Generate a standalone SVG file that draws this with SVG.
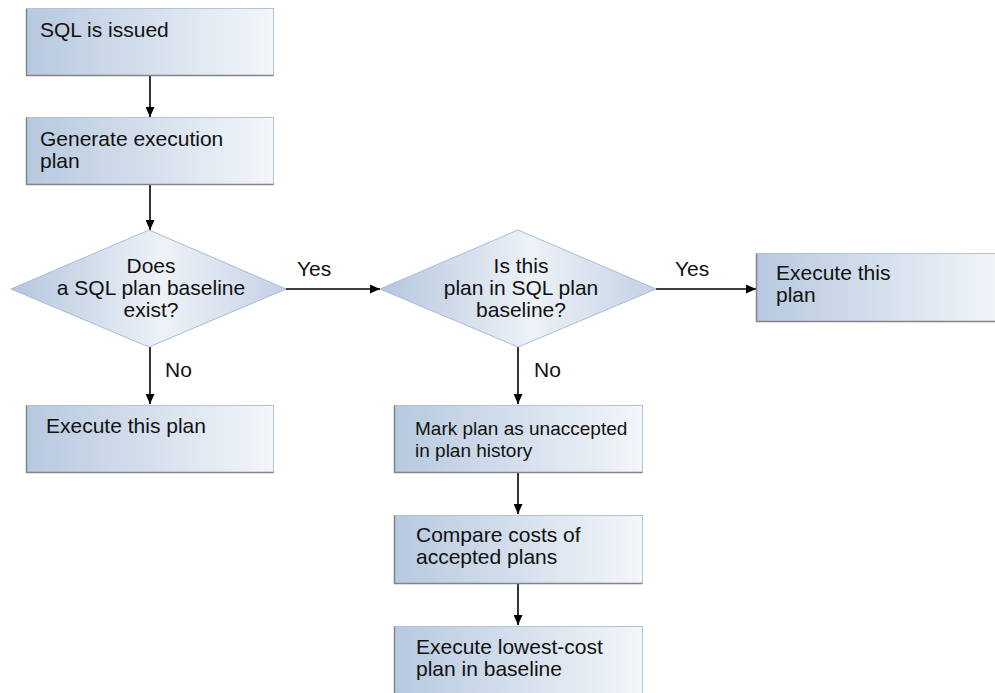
<svg xmlns="http://www.w3.org/2000/svg" width="995" height="693" viewBox="0 0 995 693">
<defs>
<linearGradient id="gb" x1="0" y1="0" x2="1" y2="0">
<stop offset="0" stop-color="#b7c9df"/>
<stop offset="1" stop-color="#f3f6fa"/>
</linearGradient>
<linearGradient id="gd" x1="0" y1="0" x2="1" y2="0">
<stop offset="0" stop-color="#b4c6dd"/>
<stop offset="0.55" stop-color="#eef2f8"/>
<stop offset="1" stop-color="#c3d1e4"/>
</linearGradient>
<marker id="ah" markerWidth="10" markerHeight="9" refX="10" refY="4.5" orient="auto" markerUnits="userSpaceOnUse">
<path d="M0,0 L10,4.5 L0,9 Z" fill="#000"/>
</marker>
</defs>
<style>
.box{fill:url(#gb);stroke:#b3c4da;stroke-width:1}
.sh{fill:none;stroke:#80858c;stroke-width:1.5}
.dia{fill:url(#gd);stroke:#a9bcd6;stroke-width:1}
.t{font-family:"Liberation Sans",Arial,sans-serif;font-size:21px;fill:#111}
.ts{font-family:"Liberation Sans",Arial,sans-serif;font-size:19px;fill:#111}
.c{text-anchor:middle}
.ln{stroke:#000;stroke-width:1.6;fill:none;marker-end:url(#ah)}
</style>

<g id="connectors">
<line class="ln" x1="150" y1="76" x2="150" y2="117"/>
<line class="ln" x1="150" y1="185" x2="150" y2="230"/>
<line class="ln" x1="286" y1="289" x2="380" y2="289"/>
<line class="ln" x1="150" y1="347" x2="150" y2="404"/>
<line class="ln" x1="656" y1="289" x2="756" y2="289"/>
<line class="ln" x1="518" y1="347" x2="518" y2="404"/>
<line class="ln" x1="518" y1="473" x2="518" y2="514"/>
<line class="ln" x1="518" y1="584" x2="518" y2="625"/>
<text class="t" x="297" y="276">Yes</text>
<text class="t" x="675" y="276">Yes</text>
<text class="t" x="165" y="377">No</text>
<text class="t" x="534" y="377">No</text>
</g>

<g id="n1">
<rect class="box" x="26.5" y="8.5" width="247" height="67"/>
<polyline class="sh" points="26.5,8.5 26.5,75.5 273.5,75.5"/>
<text class="t" x="40" y="37">SQL is issued</text>
</g>

<g id="n2">
<rect class="box" x="26.5" y="117.5" width="247" height="67"/>
<polyline class="sh" points="26.5,117.5 26.5,184.5 273.5,184.5"/>
<text class="t" x="40" y="146">Generate execution</text>
<text class="t" x="40" y="168">plan</text>
</g>

<g id="d1">
<polygon class="dia" points="149,230 286,289 149,347 11,289"/>
<text class="t c" x="151" y="273">Does</text>
<text class="t c" x="151" y="295">a SQL plan baseline</text>
<text class="t c" x="151" y="317">exist?</text>
</g>

<g id="n3">
<rect class="box" x="26.5" y="405.5" width="247" height="67"/>
<polyline class="sh" points="26.5,405.5 26.5,472.5 273.5,472.5"/>
<text class="t" x="46" y="433">Execute this plan</text>
</g>

<g id="d2">
<polygon class="dia" points="518,230 656,289 518,347 380,289"/>
<text class="t c" x="521" y="273">Is this</text>
<text class="t c" x="521" y="295">plan in SQL plan</text>
<text class="t c" x="521" y="317">baseline?</text>
</g>

<g id="n4">
<rect class="box" x="756.5" y="253.5" width="250" height="68"/>
<polyline class="sh" points="756.5,253.5 756.5,321.5 1000,321.5"/>
<text class="t" x="776" y="280">Execute this</text>
<text class="t" x="776" y="302">plan</text>
</g>

<g id="n5">
<rect class="box" x="394.5" y="405.5" width="248" height="67"/>
<polyline class="sh" points="394.5,405.5 394.5,472.5 642.5,472.5"/>
<text class="ts" x="415" y="435">Mark plan as unaccepted</text>
<text class="ts" x="415" y="457">in plan history</text>
</g>

<g id="n6">
<rect class="box" x="394.5" y="515.5" width="248" height="68"/>
<polyline class="sh" points="394.5,515.5 394.5,583.5 642.5,583.5"/>
<text class="t" x="416" y="542">Compare costs of</text>
<text class="t" x="416" y="564">accepted plans</text>
</g>

<g id="n7">
<rect class="box" x="394.5" y="626.5" width="248" height="80"/>
<polyline class="sh" points="394.5,626.5 394.5,700"/>
<text class="t" x="416" y="654">Execute lowest-cost</text>
<text class="t" x="416" y="676">plan in baseline</text>
</g>
</svg>
